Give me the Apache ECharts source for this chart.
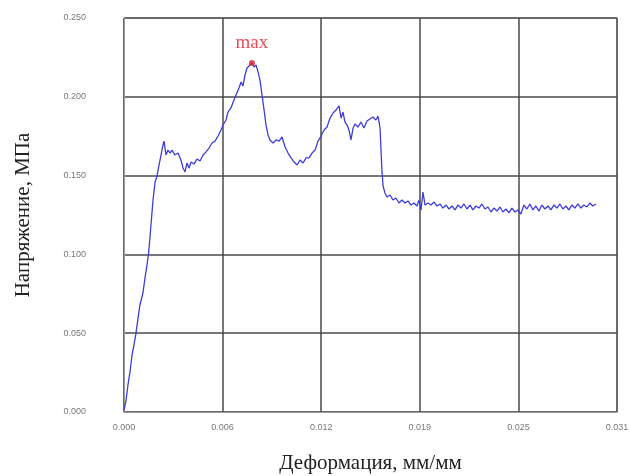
<!DOCTYPE html>
<html>
<head>
<meta charset="utf-8">
<title>Напряжение - деформация</title>
<script src="https://cdn.jsdelivr.net/npm/echarts@6/dist/echarts.min.js"></script>
<style>
  html, body { margin: 0; padding: 0; background: #fff; }
  #chart { width: 630px; height: 476px; }
</style>
</head>
<body>
<div id="chart"></div>
<script>
// strain (мм/мм) and stress (МПа)
var strain = [
  0.00000, 0.00013, 0.00025, 0.00038, 0.00051, 0.00063, 0.00076, 0.00089, 0.00101, 0.00120,
  0.00133, 0.00146, 0.00158, 0.00171, 0.00184, 0.00197, 0.00209, 0.00222, 0.00235, 0.00247,
  0.00254, 0.00266, 0.00279, 0.00292, 0.00304, 0.00323, 0.00342, 0.00361, 0.00374, 0.00387,
  0.00399, 0.00412, 0.00425, 0.00444, 0.00463, 0.00482, 0.00501, 0.00520, 0.00539, 0.00558,
  0.00577, 0.00596, 0.00615, 0.00628, 0.00647, 0.00659, 0.00678, 0.00697, 0.00710, 0.00729,
  0.00742, 0.00754, 0.00767, 0.00780, 0.00792, 0.00811, 0.00824, 0.00837, 0.00850, 0.00862,
  0.00875, 0.00888, 0.00900, 0.00913, 0.00925, 0.00945, 0.00964, 0.00983, 0.01002, 0.01021,
  0.01040, 0.01059, 0.01078, 0.01097, 0.01116, 0.01135, 0.01154, 0.01173, 0.01192, 0.01211,
  0.01230, 0.01249, 0.01268, 0.01287, 0.01306, 0.01325, 0.01344, 0.01363, 0.01376, 0.01388,
  0.01401, 0.01414, 0.01426, 0.01439, 0.01452, 0.01464, 0.01483, 0.01502, 0.01521, 0.01540,
  0.01559, 0.01578, 0.01597, 0.01610, 0.01623, 0.01629, 0.01635, 0.01642, 0.01654, 0.01667,
  0.01686, 0.01705, 0.01724, 0.01743, 0.01762, 0.01781, 0.01800, 0.01819, 0.01838, 0.01857,
  0.01870, 0.01883, 0.01895, 0.01908, 0.01927, 0.01946, 0.01965, 0.01984, 0.02003, 0.02022,
  0.02041, 0.02060, 0.02079, 0.02098, 0.02117, 0.02136, 0.02155, 0.02174, 0.02193, 0.02212,
  0.02231, 0.02250, 0.02269, 0.02288, 0.02307, 0.02326, 0.02345, 0.02364, 0.02383, 0.02402,
  0.02421, 0.02440, 0.02459, 0.02478, 0.02497, 0.02516, 0.02535, 0.02554, 0.02573, 0.02592,
  0.02611, 0.02630, 0.02649, 0.02668, 0.02687, 0.02706, 0.02725, 0.02744, 0.02763, 0.02782,
  0.02801, 0.02820, 0.02839, 0.02858, 0.02877, 0.02896, 0.02915, 0.02934, 0.02953, 0.02972,
  0.02991
];
var stress = [
  0.0010, 0.0076, 0.0171, 0.0254, 0.0362, 0.0425, 0.0501, 0.0596, 0.0679, 0.0755,
  0.0850, 0.0933, 0.1028, 0.1187, 0.1345, 0.1459, 0.1497, 0.1567, 0.1631, 0.1694,
  0.1719, 0.1631, 0.1662, 0.1643, 0.1662, 0.1631, 0.1643, 0.1599, 0.1548, 0.1523,
  0.1580, 0.1548, 0.1586, 0.1574, 0.1605, 0.1593, 0.1631, 0.1650, 0.1675, 0.1707,
  0.1719, 0.1751, 0.1789, 0.1821, 0.1853, 0.1903, 0.1929, 0.1980, 0.2011, 0.2056,
  0.2094, 0.2068, 0.2138, 0.2183, 0.2195, 0.2214, 0.2189, 0.2202, 0.2157, 0.2106,
  0.2011, 0.1916, 0.1821, 0.1758, 0.1726, 0.1707, 0.1726, 0.1719, 0.1745, 0.1681,
  0.1643, 0.1612, 0.1586, 0.1567, 0.1599, 0.1580, 0.1612, 0.1612, 0.1643, 0.1662,
  0.1719, 0.1751, 0.1789, 0.1808, 0.1865, 0.1897, 0.1916, 0.1942, 0.1865, 0.1903,
  0.1840, 0.1821, 0.1789, 0.1726, 0.1802, 0.1827, 0.1808, 0.1840, 0.1802, 0.1846,
  0.1859, 0.1872, 0.1853, 0.1878, 0.1802, 0.1662, 0.1535, 0.1434, 0.1390, 0.1364,
  0.1377, 0.1345, 0.1358, 0.1326, 0.1345, 0.1326, 0.1339, 0.1313, 0.1326, 0.1307,
  0.1345, 0.1282, 0.1396, 0.1313, 0.1326, 0.1313, 0.1332, 0.1307, 0.1320, 0.1294,
  0.1313, 0.1288, 0.1307, 0.1282, 0.1313, 0.1294, 0.1320, 0.1288, 0.1313, 0.1282,
  0.1307, 0.1294, 0.1320, 0.1288, 0.1301, 0.1269, 0.1294, 0.1275, 0.1301, 0.1269,
  0.1288, 0.1263, 0.1294, 0.1269, 0.1282, 0.1256, 0.1313, 0.1288, 0.1320, 0.1282,
  0.1307, 0.1275, 0.1313, 0.1288, 0.1307, 0.1282, 0.1313, 0.1294, 0.1320, 0.1288,
  0.1307, 0.1282, 0.1313, 0.1294, 0.1320, 0.1294, 0.1313, 0.1301, 0.1326, 0.1307,
  0.1320
];

// maximum point
var maxPoint = [0.00811, 0.2214];

// tick labels as printed on the original
var xTickLabels = ['0.000', '0.006', '0.012', '0.019', '0.025', '0.031'];
var yTickLabels = ['0.000', '0.050', '0.100', '0.150', '0.200', '0.250'];

var xStep = 0.00625;
var yStep = 0.05;

var curve = strain.map(function (s, i) { return [s, stress[i]]; });

var chart = echarts.init(document.getElementById('chart'));
chart.setOption({
  animation: false,
  grid: {
    left: 124, right: 13, top: 18, bottom: 64,
    outerBoundsMode: 'none',
    containLabel: false,
    show: true,
    borderColor: '#9a9a9a',
    borderWidth: 1
  },
  xAxis: {
    type: 'value',
    min: 0,
    max: xStep * 5,
    interval: xStep,
    name: 'Деформация, мм/мм',
    nameLocation: 'middle',
    nameGap: 41,
    nameTextStyle: { fontFamily: 'Liberation Serif', fontSize: 21, color: '#222' },
    axisLine: { lineStyle: { color: '#9a9a9a' } },
    axisTick: { show: false },
    axisLabel: {
      fontFamily: 'Liberation Sans', fontSize: 9, color: '#777', margin: 11,
      formatter: function (v) { return xTickLabels[Math.round(v / xStep)]; }
    },
    splitLine: { show: true, lineStyle: { color: '#4a4a4a', width: 1.5 } }
  },
  yAxis: {
    type: 'value',
    min: 0,
    max: yStep * 5,
    interval: yStep,
    name: 'Напряжение, МПа',
    nameLocation: 'middle',
    nameGap: 90,
    nameTextStyle: { fontFamily: 'Liberation Serif', fontSize: 21, color: '#222' },
    axisLine: { show: true, lineStyle: { color: '#9a9a9a' } },
    axisTick: { show: false },
    axisLabel: {
      fontFamily: 'Liberation Sans', fontSize: 9, color: '#777', margin: 38,
      formatter: function (v) { return yTickLabels[Math.round(v / yStep)]; }
    },
    splitLine: { show: true, lineStyle: { color: '#4a4a4a', width: 1.5 } }
  },
  series: [
    {
      type: 'line',
      data: curve,
      showSymbol: false,
      lineStyle: { color: '#3d3ddb', width: 1.3 },
      z: 3
    },
    {
      type: 'scatter',
      data: [maxPoint],
      symbolSize: 6,
      itemStyle: { color: '#e0202a' },
      label: {
        show: true,
        position: 'top',
        distance: 8,
        formatter: 'max',
        fontFamily: 'Liberation Serif',
        fontSize: 19,
        color: '#e0202a'
      },
      z: 4
    }
  ]
});
</script>
</body>
</html>
